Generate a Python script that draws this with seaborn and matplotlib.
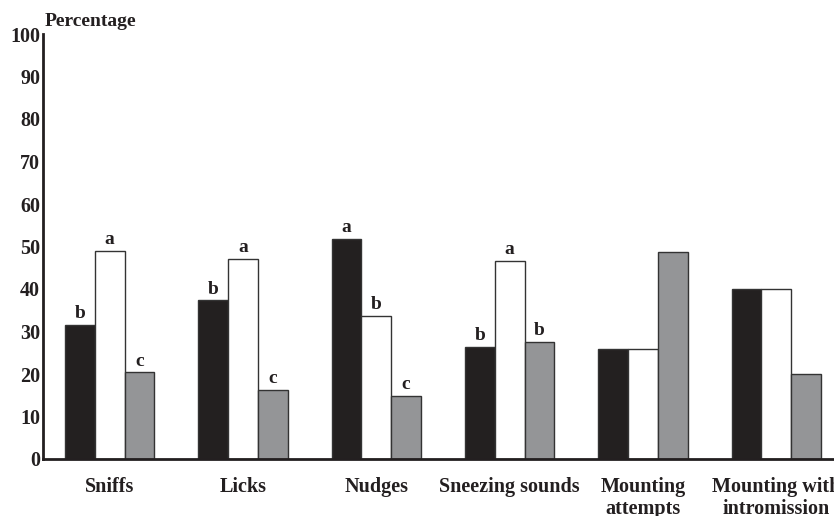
import matplotlib
matplotlib.use("Agg")
import matplotlib.pyplot as plt
import seaborn as sns
import numpy as np
import pandas as pd

categories = ["Sniffs", "Licks", "Nudges", "Sneezing sounds",
              "Mounting\nattempts", "Mounting with\nintromission"]
groups = ["Group 1", "Group 2", "Group 3"]
group1 = [31.5, 37.3, 51.8, 26.4, 26.0, 40.0]
group2 = [49.0, 47.0, 33.7, 46.7, 26.0, 40.0]
group3 = [20.4, 16.2, 14.8, 27.5, 48.6, 20.0]
letters1 = ["b", "b", "a", "b", "", ""]
letters2 = ["a", "a", "b", "a", "", ""]
letters3 = ["c", "c", "c", "b", "", ""]
yticks = list(range(0, 101, 10))

colors = ["#231f20", "#ffffff", "#939598"]

df = pd.DataFrame({
    "category": categories * 3,
    "group": [groups[0]] * 6 + [groups[1]] * 6 + [groups[2]] * 6,
    "value": group1 + group2 + group3,
})

sns.set_style("white")
plt.rcParams["font.family"] = ["Liberation Serif", "DejaVu Serif"]
plt.rcParams["font.weight"] = "bold"

fig = plt.figure(figsize=(8.34, 5.16), dpi=100)
W, H = 834, 516
left_px, right_px, top_px, bottom_px = 43, 843, 34, 459
ax = fig.add_axes([left_px / W, 1 - bottom_px / H,
                   (right_px - left_px) / W, (bottom_px - top_px) / H])

sns.barplot(data=df, x="category", y="value", hue="group", order=categories,
            hue_order=groups, palette=colors, width=0.67, edgecolor="#333333",
            linewidth=1.0, legend=False, ax=ax)

letters = [letters1, letters2, letters3]
for cont, labs in zip(ax.containers, letters):
    for bar, lab in zip(cont, labs):
        if lab:
            ax.annotate(lab, (bar.get_x() + bar.get_width() / 2, bar.get_height()),
                        xytext=(0, 2), textcoords="offset points",
                        ha="center", va="bottom", fontsize=14, fontweight="bold",
                        color="#231f20")

ax.set_ylim(0, 100)
ax.set_xlim(-0.5, len(categories) - 0.5)
ax.set_yticks(yticks)
ax.set_yticklabels([str(t) for t in yticks], fontsize=14.5, fontweight="bold",
                   color="#231f20")
ax.set_xticks(np.arange(-0.5, len(categories), 1.0))
ax.set_xticklabels([""] * len(np.arange(-0.5, len(categories), 1.0)))
ax.set_xticks(np.arange(len(categories)), minor=True)
ax.set_xticklabels(categories, minor=True, fontsize=14.5, fontweight="bold",
                   color="#231f20", linespacing=1.15)
ax.tick_params(axis="x", which="minor", length=0, pad=13)
ax.tick_params(axis="x", which="major", length=5, width=1.5, direction="out",
               color="#231f20")
ax.tick_params(axis="y", length=3, width=1.5, direction="out", pad=-1,
               color="#231f20")
ax.set_xlabel("")
ax.set_ylabel("")
for s in ["top", "right"]:
    ax.spines[s].set_visible(False)
for s in ["left", "bottom"]:
    ax.spines[s].set_linewidth(2)
    ax.spines[s].set_color("#231f20")

fig.text(45 / W, 1 - 21 / H, "Percentage", fontsize=14, fontweight="bold",
         ha="left", va="center", color="#231f20")

fig.savefig("out.png", dpi=100)
